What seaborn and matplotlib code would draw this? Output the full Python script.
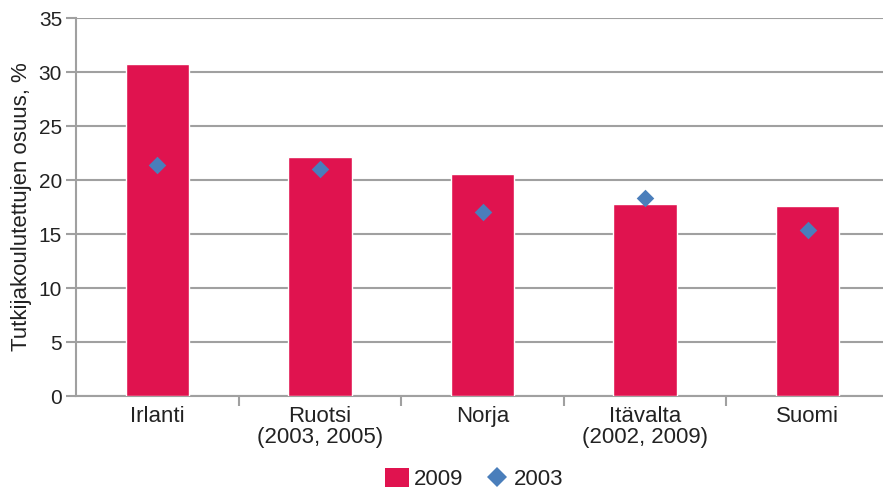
import matplotlib
matplotlib.use("Agg")
import matplotlib.pyplot as plt
from matplotlib.lines import Line2D
from matplotlib.patches import Patch
import seaborn as sns
import pandas as pd
import numpy as np

categories = ["Irlanti", "Ruotsi\n(2003, 2005)", "Norja", "Itävalta\n(2002, 2009)", "Suomi"]
values_2009 = [30.7, 22.1, 20.6, 17.8, 17.6]
values_2003 = [21.4, 21.0, 17.0, 18.3, 15.4]

BAR_COLOR = "#E0134F"
DOT_COLOR = "#4A7EBB"
GRID = "#A0A0A0"
TEXT = "#222222"

sns.set_theme(style="white")
plt.rcParams["font.family"] = ["Liberation Sans", "DejaVu Sans"]

df = pd.DataFrame({"maa": categories, "2009": values_2009, "2003": values_2003})

fig = plt.figure(figsize=(8.83, 4.92), dpi=100)
# plot area runs slightly past the right edge, like the original export
ax = fig.add_axes([76 / 883, 1 - 396 / 492, 813 / 883, (396 - 18) / 492])

sns.barplot(data=df, x="maa", y="2009", color=BAR_COLOR, width=0.39,
            saturation=1, ax=ax, zorder=3)
x = np.arange(len(categories))
ax.scatter(x, df["2003"], marker="D", s=80, color=DOT_COLOR, zorder=4, linewidths=0)

ax.set_ylim(0, 35)
ax.set_xlim(-0.5, len(categories) - 0.5)
ax.set_yticks(range(0, 36, 5))
ax.yaxis.grid(True, color=GRID, linewidth=1.5, zorder=0)
ax.set_axisbelow(True)
for s in ["top", "right"]:
    ax.spines[s].set_visible(False)
for s in ["left", "bottom"]:
    ax.spines[s].set_color(GRID)
    ax.spines[s].set_linewidth(1.5)

ax.tick_params(axis="y", which="major", left=True, length=7, width=1.5, color=GRID,
               labelsize=15, labelcolor=TEXT, pad=3)
ax.set_xticks(x)
ax.set_xticklabels(categories, fontsize=16, color=TEXT, linespacing=1.0)
ax.tick_params(axis="x", which="major", bottom=False, pad=1)
ax.set_xticks(np.arange(0.5, len(categories) - 0.5, 1), minor=True)
ax.tick_params(axis="x", which="minor", bottom=True, length=7, width=1.5, color=GRID)

ax.set_xlabel("")
ax.set_ylabel("Tutkijakoulutettujen osuus, %", fontsize=16, color=TEXT, labelpad=5)

handles = [Patch(facecolor=BAR_COLOR, edgecolor="none", label="2009"),
           Line2D([], [], marker="D", linestyle="none", color=DOT_COLOR,
                  markersize=10, markeredgewidth=0, label="2003")]
fig.legend(handles=handles, loc="center", bbox_to_anchor=(474 / 883, 1 - 479 / 492),
           ncol=2, frameon=False, fontsize=16, handlelength=1.1, handleheight=0.9,
           handletextpad=0.2, columnspacing=1.0, labelcolor=TEXT)

fig.savefig("out.png", dpi=100)
